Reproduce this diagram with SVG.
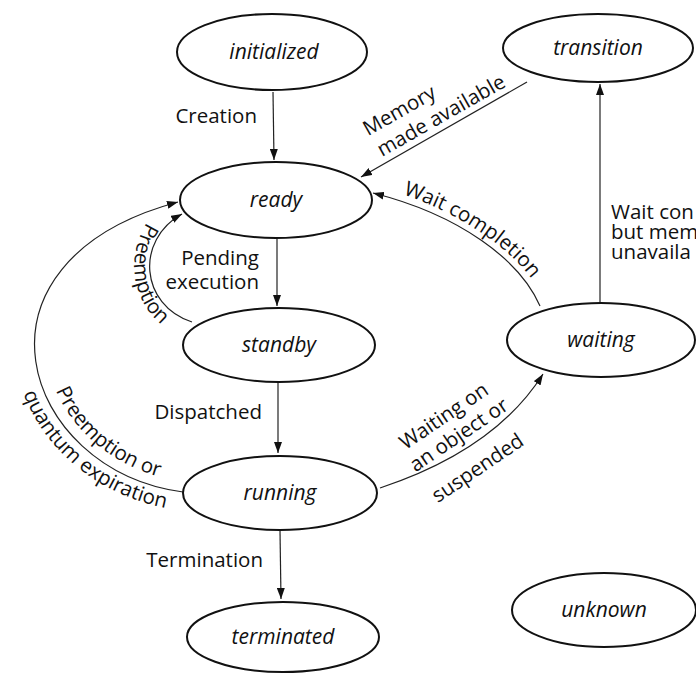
<svg xmlns="http://www.w3.org/2000/svg" width="696" height="673" viewBox="0 0 696 673">
<style>
.node ellipse{fill:#fff;stroke:#111;stroke-width:2}
.nl{font-family:"Open Sans","Noto Sans",sans-serif;font-style:italic;font-size:21px;fill:#111;text-anchor:middle}
.el{font-family:"Open Sans","Noto Sans",sans-serif;font-size:20.5px;fill:#111}
.c{fill:none;stroke:#222;stroke-width:1.2}
</style>
<defs>
<marker id="ah" markerUnits="userSpaceOnUse" markerWidth="12" markerHeight="8" refX="11" refY="4" orient="auto">
<path d="M0,0 L11,4 L0,8 z" fill="#111"/>
</marker>
<path id="tpWait" d="M374,186 C462,208 527,258 546,303"/>
<path id="tpPre" d="M173,198 C117,230 122,318 187,338"/>
<path id="tpPreOr" d="M178,213 C-27,269 33,460 183,482"/>
<path id="tpQuant" d="M178,182 C-76,250 -2,488 183,511"/>
</defs>
<rect width="696" height="673" fill="#fff"/>

<g id="connectors">
<path class="c" d="M273,92 L274,160" marker-end="url(#ah)"/>
<path class="c" d="M277,239 L277,306" marker-end="url(#ah)"/>
<path class="c" d="M278,383 L278,453" marker-end="url(#ah)"/>
<path class="c" d="M280,531 L281,599" marker-end="url(#ah)"/>
<path class="c" d="M527,82 L361,177" marker-end="url(#ah)"/>
<path class="c" d="M540,306 C520,260 460,215 373,193" marker-end="url(#ah)"/>
<path class="c" d="M600,303 L600,84" marker-end="url(#ah)"/>
<path class="c" d="M380,488 Q495,450 543,374" marker-end="url(#ah)"/>
<path class="c" d="M192,322 C140,305 135,240 182,214" marker-end="url(#ah)"/>
<path class="c" d="M183,492 C20,470 -45,262 178,202" marker-end="url(#ah)"/>

<text class="el" x="257" y="123" text-anchor="end">Creation</text>
<text class="el" text-anchor="end"><tspan x="259" y="265">Pending</tspan><tspan x="259" y="289">execution</tspan></text>
<text class="el" x="262" y="419" text-anchor="end">Dispatched</text>
<text class="el" x="263" y="567" text-anchor="end">Termination</text>
<g transform="translate(382,157) rotate(-29.6)">
<text class="el" x="-2" y="-25">Memory</text>
<text class="el" x="0" y="0">made available</text>
</g>
<text class="el"><textPath href="#tpWait" startOffset="30">Wait completion</textPath></text>
<text class="el" font-size="18.5"><tspan x="611" y="219">Wait con</tspan><tspan x="611" y="239">but mem</tspan><tspan x="611" y="259">unavaila</tspan></text>
<g transform="rotate(-34 460 440)">
<text class="el" text-anchor="middle" x="460" y="418">Waiting on</text>
<text class="el" text-anchor="middle" x="462" y="442">an object or</text>
<text class="el" text-anchor="middle" x="459" y="480">suspended</text>
</g>
<text class="el"><textPath href="#tpPre" startOffset="36">Preemption</textPath></text>
<text class="el" text-anchor="end"><textPath href="#tpPreOr" startOffset="94%">Preemption or</textPath></text>
<text class="el" text-anchor="end"><textPath href="#tpQuant" startOffset="96.5%">quantum expiration</textPath></text>
</g>

<g id="initialized" class="node"><ellipse cx="272" cy="52" rx="95" ry="38"/><text class="nl" x="274" y="59">initialized</text></g>
<g id="transition" class="node"><ellipse cx="598" cy="48" rx="95" ry="34"/><text class="nl" x="598" y="55">transition</text></g>
<g id="ready" class="node"><ellipse cx="276" cy="200" rx="96" ry="38"/><text class="nl" x="276" y="207">ready</text></g>
<g id="standby" class="node"><ellipse cx="279" cy="345" rx="96" ry="37"/><text class="nl" x="279" y="352">standby</text></g>
<g id="running" class="node"><ellipse cx="280" cy="493" rx="97" ry="37"/><text class="nl" x="280" y="500">running</text></g>
<g id="terminated" class="node"><ellipse cx="283" cy="637" rx="96" ry="35"/><text class="nl" x="283" y="644">terminated</text></g>
<g id="waiting" class="node"><ellipse cx="601" cy="340" rx="94" ry="37"/><text class="nl" x="601" y="347">waiting</text></g>
<g id="unknown" class="node"><ellipse cx="604" cy="610" rx="92" ry="37"/><text class="nl" x="604" y="617">unknown</text></g>
</svg>
